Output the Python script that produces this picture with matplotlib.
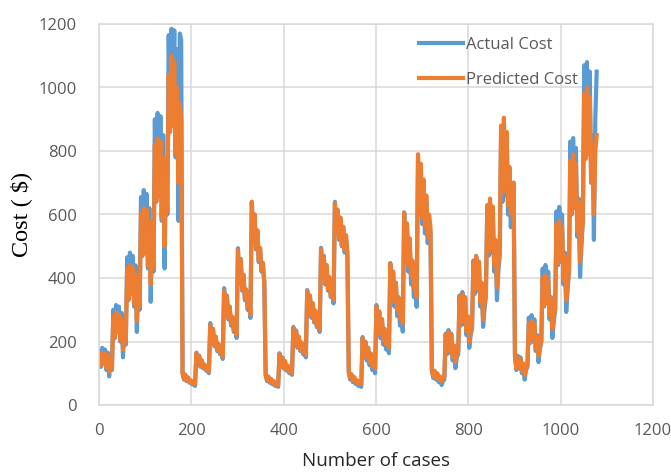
import numpy as np
import matplotlib
matplotlib.use("Agg")
import matplotlib.pyplot as plt

# ---- data (3-case resolution) ----
seg1_actual = [170, 120, 180, 130, 175, 110, 165, 90, 150, 110,
               300, 210, 315, 230, 310, 200, 290, 150, 270, 190,
               465, 330, 480, 350, 470, 310, 440, 230, 400, 300,
               655, 470, 677, 480, 665, 430, 620, 325, 560, 420,
               900, 640, 920, 660, 910, 580, 850, 430, 760, 600,
               1165, 880, 1185, 900, 1180, 780, 1120, 580, 1170, 1150]
seg1_pred = [160, 125, 165, 130, 162, 118, 155, 105, 145, 115,
             280, 215, 290, 230, 285, 205, 270, 175, 255, 200,
             430, 335, 440, 350, 435, 320, 410, 265, 380, 310,
             605, 470, 620, 480, 615, 440, 580, 380, 530, 430,
             820, 640, 840, 660, 830, 590, 780, 500, 710, 610,
             1040, 860, 1100, 880, 1080, 790, 1000, 700, 950, 900]

seg2_actual = [100, 80, 95, 75, 85, 70, 75, 65, 68, 60,
               165, 125, 155, 120, 140, 115, 125, 108, 115, 100,
               258, 195, 240, 185, 215, 170, 190, 160, 170, 145,
               368, 285, 345, 270, 310, 250, 275, 230, 245, 211,
               494, 385, 460, 360, 410, 330, 360, 300, 320, 274,
               640, 520, 600, 490, 550, 450, 490, 420, 440, 385]
seg2_pred = [100, 82, 96, 77, 87, 73, 78, 68, 72, 65,
             162, 128, 155, 123, 140, 118, 127, 112, 118, 105,
             252, 198, 238, 188, 215, 175, 192, 165, 175, 152,
             360, 288, 342, 275, 310, 255, 278, 236, 250, 220,
             488, 390, 458, 365, 410, 336, 364, 308, 328, 285,
             640, 525, 600, 495, 550, 456, 495, 426, 448, 390]

seg3_actual = [95, 75, 88, 70, 80, 65, 72, 60, 65, 57,
               163, 120, 150, 115, 138, 108, 122, 100, 110, 95,
               246, 190, 235, 180, 215, 170, 195, 160, 175, 150,
               362, 285, 345, 275, 320, 260, 295, 245, 270, 230,
               495, 400, 470, 380, 440, 360, 400, 340, 370, 320,
               640, 545, 615, 520, 590, 500, 560, 480, 530, 470]
seg3_pred = [95, 78, 90, 73, 82, 68, 75, 64, 69, 62,
             160, 123, 150, 118, 138, 112, 124, 105, 114, 100,
             242, 194, 233, 184, 215, 174, 197, 165, 180, 158,
             358, 290, 343, 280, 320, 265, 297, 250, 275, 238,
             490, 405, 468, 385, 440, 365, 403, 346, 376, 330,
             635, 550, 613, 525, 590, 505, 562, 488, 535, 480]

seg4_actual = [105, 80, 95, 72, 85, 66, 74, 60, 66, 57,
               214, 150, 200, 140, 180, 125, 160, 110, 135, 100,
               315, 225, 295, 210, 270, 190, 235, 175, 200, 163,
               447, 330, 420, 310, 385, 280, 330, 250, 280, 231,
               607, 450, 570, 420, 520, 380, 440, 340, 370, 309,
               770, 600, 740, 570, 690, 540, 640, 510, 580, 540]
seg4_pred = [105, 85, 97, 77, 88, 72, 78, 66, 72, 65,
             210, 158, 198, 148, 180, 135, 162, 122, 142, 115,
             310, 235, 293, 222, 270, 203, 240, 190, 212, 180,
             445, 345, 420, 325, 385, 300, 340, 275, 300, 255,
             605, 470, 572, 440, 525, 405, 455, 370, 395, 340,
             790, 620, 760, 590, 710, 560, 660, 530, 600, 560]

seg5_actual = [110, 85, 105, 80, 98, 72, 85, 63, 75, 80,
               225, 160, 236, 165, 225, 140, 180, 116, 150, 160,
               345, 250, 356, 255, 340, 220, 270, 180, 220, 240,
               455, 350, 467, 360, 450, 310, 370, 246, 300, 340,
               620, 470, 640, 480, 610, 420, 500, 330, 420, 470,
               860, 640, 880, 660, 840, 600, 720, 560, 650, 700]
seg5_pred = [110, 90, 108, 85, 100, 80, 90, 75, 82, 90,
             220, 170, 230, 172, 222, 152, 188, 135, 160, 168,
             340, 260, 350, 262, 338, 232, 280, 200, 232, 250,
             450, 365, 470, 370, 452, 325, 385, 270, 318, 350,
             630, 485, 650, 495, 625, 440, 520, 370, 445, 490,
             880, 670, 905, 690, 860, 630, 750, 600, 680, 700]

seg6_actual = [160, 110, 155, 115, 150, 100, 130, 80, 110, 120,
               275, 195, 283, 200, 270, 170, 220, 135, 175, 200,
               430, 310, 441, 320, 420, 270, 340, 211, 260, 300,
               610, 440, 624, 450, 600, 380, 480, 293, 360, 420,
               830, 600, 841, 620, 810, 530, 650, 403, 500, 580,
               1070, 790, 1080, 800, 1050, 700, 850, 520, 900, 1050]
seg6_pred = [150, 115, 150, 118, 145, 108, 130, 95, 115, 125,
             255, 198, 265, 205, 255, 178, 215, 155, 182, 200,
             400, 315, 410, 322, 395, 280, 335, 240, 275, 300,
             570, 445, 580, 455, 560, 395, 470, 330, 380, 420,
             770, 605, 790, 620, 760, 545, 640, 450, 520, 580,
             980, 775, 1000, 790, 970, 700, 820, 600, 800, 850]

actual_cost = (seg1_actual + seg2_actual + seg3_actual +
               seg4_actual + seg5_actual + seg6_actual)
predicted_cost = (seg1_pred + seg2_pred + seg3_pred +
                  seg4_pred + seg5_pred + seg6_pred)
cases = np.arange(1, 1080, 3)

x_ticks = [0, 200, 400, 600, 800, 1000, 1200]
y_ticks = [0, 200, 400, 600, 800, 1000, 1200]

# ---- plot ----
fig = plt.figure(figsize=(6.71, 4.73), dpi=100)
ax = fig.add_axes([99/671, 1-405/473, 554/671, 381/473])

blue = "#5B9BD5"
orange = "#ED7D31"
ax.plot(cases, actual_cost, color=blue, lw=3.0, label="Actual Cost",
        solid_joinstyle="round")
ax.plot(cases, predicted_cost, color=orange, lw=3.0, label="Predicted Cost",
        solid_joinstyle="round")

ax.set_xlim(0, 1200)
ax.set_ylim(0, 1200)
ax.set_xticks(x_ticks)
ax.set_yticks(y_ticks)
grid_c = "#D9D9D9"
ax.grid(True, color=grid_c, lw=1.1)
ax.set_axisbelow(True)
for s in ax.spines.values():
    s.set_color(grid_c)
    s.set_linewidth(1.1)
ax.tick_params(length=0, labelsize=12, labelcolor="#595959")
ax.tick_params(axis="y", pad=16)
ax.tick_params(axis="x", pad=13)
for lab in ax.get_xticklabels() + ax.get_yticklabels():
    lab.set_family("Open Sans")

ax.set_xlabel("Number of cases", fontsize=13.5, family="Open Sans",
              color="#262626", labelpad=9)
ax.set_ylabel("Cost ( $)", fontsize=17.5, family="Liberation Serif",
              color="black", labelpad=5)

leg = ax.legend(loc="upper left", bbox_to_anchor=(0.551, 1.005), frameon=False,
                prop={"family": "Open Sans", "size": 12},
                handlelength=2.6, handletextpad=0.2, labelspacing=1.15)
for t in leg.get_texts():
    t.set_color("#595959")

fig.savefig("out.png", dpi=100)
